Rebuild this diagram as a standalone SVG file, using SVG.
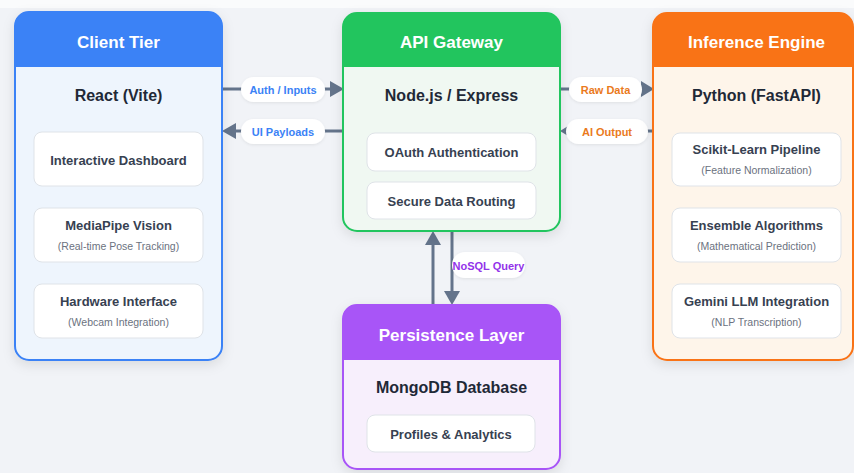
<svg xmlns="http://www.w3.org/2000/svg" width="854" height="473" viewBox="0 0 854 473">
<defs>
<style>
text{font-family:"Liberation Sans",Arial,sans-serif;text-anchor:middle;dominant-baseline:central}
.title{font-size:17px;font-weight:bold;fill:#fff}
.sub{font-size:16px;font-weight:bold;fill:#1f2937}
.ct{font-size:13px;font-weight:bold;fill:#374151}
.cs{font-size:10.5px;fill:#6b7280}
.card{fill:#fff;stroke:#dfe3e8;stroke-width:1}
.pill{fill:#fff}
.pl{font-size:11px;font-weight:bold}
.line{stroke:#64748b;stroke-width:3;fill:none}
.head{fill:#64748b}
</style>
<filter id="sh" x="-20%" y="-20%" width="140%" height="140%">
<feDropShadow dx="0" dy="4" stdDeviation="6" flood-color="#000" flood-opacity="0.10"/>
</filter>
<filter id="sh2" x="-20%" y="-30%" width="140%" height="160%">
<feDropShadow dx="0" dy="1" stdDeviation="1.5" flood-color="#000" flood-opacity="0.08"/>
</filter>
</defs>
<rect width="854" height="473" fill="#f1f3f7"/>
<rect width="854" height="8" fill="#fafbfc"/>

<g id="connectors">
  <!-- Auth / Inputs -->
  <line class="line" x1="222" y1="89" x2="332" y2="89"/>
  <polygon class="head" points="330,81 344,89 330,97"/>
  <rect class="pill" x="241" y="77" width="84" height="25" rx="12.5" filter="url(#sh2)"/>
  <text class="pl" x="283" y="89.5" fill="#3b82f6">Auth / Inputs</text>
  <!-- UI Payloads -->
  <line class="line" x1="234" y1="131" x2="343" y2="131"/>
  <polygon class="head" points="236,123 222,131 236,139"/>
  <rect class="pill" x="241" y="119" width="84" height="25" rx="12.5" filter="url(#sh2)"/>
  <text class="pl" x="283" y="131.5" fill="#3b82f6">UI Payloads</text>
  <!-- Raw Data -->
  <line class="line" x1="560" y1="89" x2="643" y2="89"/>
  <polygon class="head" points="641,81 654,89 641,97"/>
  <rect class="pill" x="569" y="77" width="73" height="25" rx="12.5" filter="url(#sh2)"/>
  <text class="pl" x="605.5" y="89.5" fill="#ea7a1c">Raw Data</text>
  <!-- AI Output -->
  <line class="line" x1="570" y1="131" x2="653" y2="131"/>
  <polygon class="head" points="573,123 560,131 573,139"/>
  <rect class="pill" x="566" y="119" width="82" height="25" rx="12.5" filter="url(#sh2)"/>
  <text class="pl" x="607" y="131.5" fill="#ea7a1c">AI Output</text>
  <!-- vertical up -->
  <line class="line" x1="433" y1="305" x2="433" y2="243"/>
  <polygon class="head" points="425,245 433,231 441,245"/>
  <!-- vertical down -->
  <line class="line" x1="452" y1="231" x2="452" y2="293"/>
  <polygon class="head" points="444,291 452,305 460,291"/>
  <rect class="pill" x="452" y="252" width="73" height="26" rx="13" filter="url(#sh2)"/>
  <text class="pl" x="488.5" y="265.5" fill="#9333ea">NoSQL Query</text>
</g>

<g id="client-tier">
  <rect x="15" y="12" width="207" height="348" rx="14" fill="#eef5fd" stroke="#3b82f6" stroke-width="2" filter="url(#sh)"/>
  <path d="M15,67 V26 a14,14 0 0 1 14,-14 H208 a14,14 0 0 1 14,14 V67 Z" fill="#3b82f6"/>
  <text class="title" x="118.5" y="42">Client Tier</text>
  <text class="sub" x="118.5" y="95">React (Vite)</text>
  <rect class="card" x="34" y="132" width="169" height="54" rx="8"/>
  <text class="ct" x="118.5" y="160">Interactive Dashboard</text>
  <rect class="card" x="34" y="208" width="169" height="54" rx="8"/>
  <text class="ct" x="118.5" y="225">MediaPipe Vision</text>
  <text class="cs" x="118.5" y="246">(Real-time Pose Tracking)</text>
  <rect class="card" x="34" y="284" width="169" height="54" rx="8"/>
  <text class="ct" x="118.5" y="301">Hardware Interface</text>
  <text class="cs" x="118.5" y="322">(Webcam Integration)</text>
</g>

<g id="api-gateway">
  <rect x="343" y="13" width="217" height="218" rx="14" fill="#f0f8f2" stroke="#22c55e" stroke-width="2" filter="url(#sh)"/>
  <path d="M343,67 V27 a14,14 0 0 1 14,-14 H546 a14,14 0 0 1 14,14 V67 Z" fill="#22c55e"/>
  <text class="title" x="451.5" y="42">API Gateway</text>
  <text class="sub" x="451.5" y="95">Node.js / Express</text>
  <rect class="card" x="367" y="133" width="169" height="38" rx="8"/>
  <text class="ct" x="451.5" y="152.5">OAuth Authentication</text>
  <rect class="card" x="367" y="182" width="169" height="37" rx="8"/>
  <text class="ct" x="451.5" y="201">Secure Data Routing</text>
</g>

<g id="inference-engine">
  <rect x="653" y="13" width="200" height="347" rx="14" fill="#fef5ea" stroke="#f97316" stroke-width="2" filter="url(#sh)"/>
  <path d="M653,67 V27 a14,14 0 0 1 14,-14 H839 a14,14 0 0 1 14,14 V67 Z" fill="#f97316"/>
  <text class="title" x="756.5" y="42">Inference Engine</text>
  <text class="sub" x="756.5" y="95">Python (FastAPI)</text>
  <rect class="card" x="672" y="133" width="169" height="53" rx="8"/>
  <text class="ct" x="756.5" y="149">Scikit-Learn Pipeline</text>
  <text class="cs" x="756.5" y="170">(Feature Normalization)</text>
  <rect class="card" x="672" y="208" width="169" height="54" rx="8"/>
  <text class="ct" x="756.5" y="225">Ensemble Algorithms</text>
  <text class="cs" x="756.5" y="246">(Mathematical Prediction)</text>
  <rect class="card" x="672" y="284" width="169" height="54" rx="8"/>
  <text class="ct" x="756.5" y="301">Gemini LLM Integration</text>
  <text class="cs" x="756.5" y="322">(NLP Transcription)</text>
</g>

<g id="persistence-layer">
  <rect x="343" y="305" width="217" height="164" rx="14" fill="#f7effc" stroke="#a855f7" stroke-width="2" filter="url(#sh)"/>
  <path d="M343,360 V319 a14,14 0 0 1 14,-14 H546 a14,14 0 0 1 14,14 V360 Z" fill="#a855f7"/>
  <text class="title" x="451.5" y="335">Persistence Layer</text>
  <text class="sub" x="451.5" y="387">MongoDB Database</text>
  <rect class="card" x="367" y="415" width="168" height="37" rx="8"/>
  <text class="ct" x="451" y="434">Profiles &amp; Analytics</text>
</g>
</svg>
